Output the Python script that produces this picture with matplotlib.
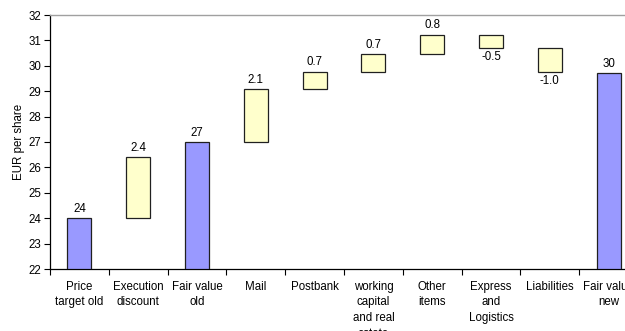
"""Waterfall chart: bridge from old price target to new fair value (EUR per share)."""

import matplotlib

matplotlib.use("Agg")
from matplotlib import pyplot as plt
from matplotlib.ticker import FixedLocator

plt.rcParams["font.family"] = ["Liberation Sans", "DejaVu Sans"]

# data
categories = [
    "Price\ntarget old",
    "Execution\ndiscount",
    "Fair value\nold",
    "Mail",
    "Postbank",
    "working\ncapital\nand real\nestate",
    "Other\nitems",
    "Express\nand\nLogistics",
    "Liabilities",
    "Fair value\nnew",
]
is_total = [True, False, True, False, False, False, False, False, False, True]
values = [24.0, 2.4, 27.0, 2.07, 0.70, 0.68, 0.77, -0.51, -0.94, 29.7]
value_labels = ["24", "2.4", "27", "2.1", "0.7", "0.7", "0.8", "-0.5", "-1.0", "30"]

y_min, y_max = 22, 32

blue = "#9999ff"
yellow = "#ffffcc"
fs = 8.3

fig = plt.figure(figsize=(6.25, 3.31), dpi=100)
# plot area runs past the right edge, as in the reference
ax = fig.add_axes([50 / 625, 62 / 331, 588 / 625, 254 / 331])

running = 0.0
for i, (total, v, lab) in enumerate(zip(is_total, values, value_labels)):
    if total:
        bottom, height = y_min, v - y_min
        running = v
        color = blue
    else:
        bottom, height = running, v
        running += v
        color = yellow
    ax.bar(i, height, bottom=bottom, width=0.41, color=color,
           edgecolor="#202020", linewidth=0.9, zorder=3)
    top = max(bottom, bottom + height)
    low = min(bottom, bottom + height)
    if v >= 0 or total:
        ax.annotate(lab, (i, top), xytext=(0, 2.5), textcoords="offset points",
                    ha="center", va="bottom", fontsize=fs)
    else:
        ax.annotate(lab, (i, low), xytext=(0, -2.5), textcoords="offset points",
                    ha="center", va="top", fontsize=fs)

ax.set_xlim(-0.5, len(categories) - 0.5)
ax.set_ylim(y_min, y_max)
ax.set_yticks(range(y_min, y_max + 1))
ax.set_xticks(range(len(categories)))
ax.set_xticklabels(categories, fontsize=fs, linespacing=1.4)
ax.xaxis.set_minor_locator(FixedLocator([i - 0.5 for i in range(len(categories) + 1)]))
ax.tick_params(axis="x", which="major", length=0, pad=8.5)
ax.tick_params(axis="x", which="minor", length=4, width=0.8, direction="out")
ax.tick_params(axis="y", length=4, width=0.8, labelsize=fs, pad=2)
ax.set_ylabel("EUR per share", fontsize=fs, labelpad=3)

for side in ("left", "bottom"):
    ax.spines[side].set_color("#000000")
    ax.spines[side].set_linewidth(0.9)
ax.spines["top"].set_color("#a0a0a0")
ax.spines["top"].set_linewidth(1.0)
ax.spines["right"].set_color("#a0a0a0")

fig.savefig("out.png", dpi=100)
